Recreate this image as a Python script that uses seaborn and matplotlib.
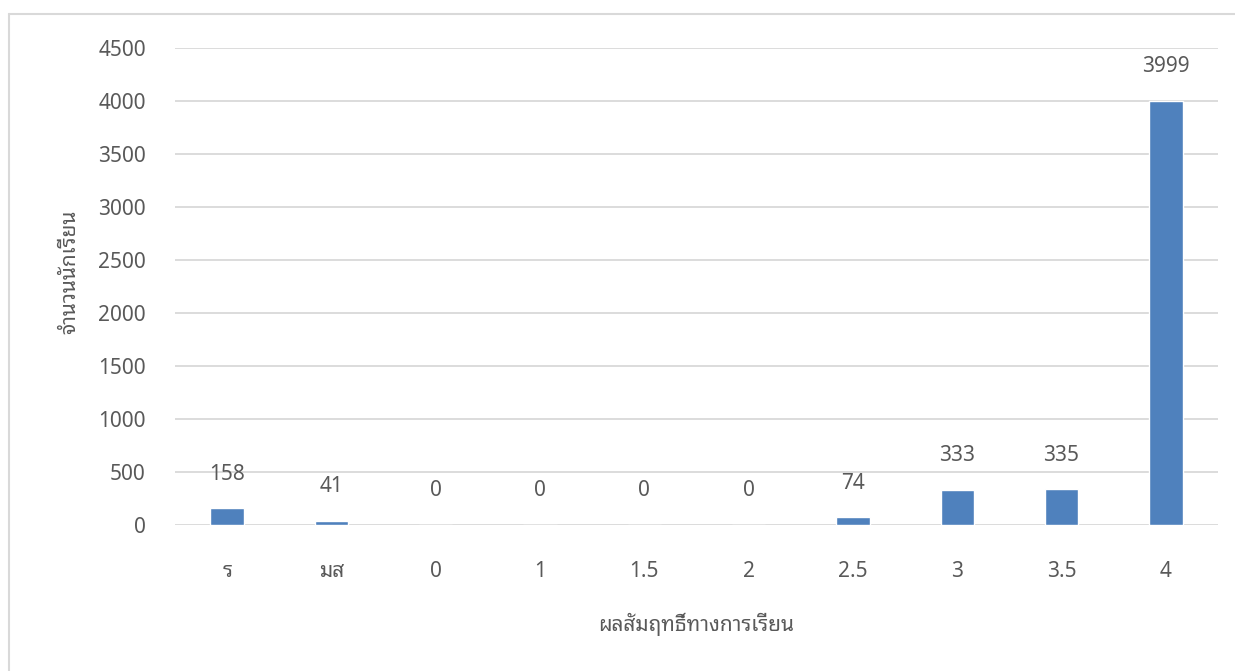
import matplotlib
matplotlib.use("Agg")
import matplotlib.pyplot as plt
from matplotlib.lines import Line2D
import seaborn as sns
import pandas as pd

grades = ["ร", "มส", "0", "1", "1.5", "2", "2.5", "3", "3.5", "4"]
counts = [158, 41, 0, 0, 0, 0, 74, 333, 335, 3999]
y_ticks = [0, 500, 1000, 1500, 2000, 2500, 3000, 3500, 4000, 4500]
x_title = "ผลสัมฤทธิ์ทางการเรียน"
y_title = "จำนวนนักเรียน"

sns.set_style("white")
plt.rcParams['font.family'] = ['Noto Sans Thai Looped', 'Noto Sans', 'DejaVu Sans']

TXT = "#595959"
GRID = "#d9d9d9"
BAR = "#4f81bd"
FS = 15

W, H = 1235, 671
fig = plt.figure(figsize=(W / 100, H / 100), dpi=100)
ax = fig.add_axes([175 / W, 1 - 525 / H, (1218 - 175) / W, (525 - 48) / H])

df = pd.DataFrame({"grade": grades, "count": counts})
sns.barplot(data=df, x="grade", y="count", order=grades, color=BAR,
            width=0.32, saturation=1, ax=ax, zorder=3)

ax.set_ylim(0, 4500)
ax.set_yticks(y_ticks)
ax.set_xlim(-0.5, len(grades) - 0.5)
ax.yaxis.grid(True, color=GRID, linewidth=1.3, zorder=0)
ax.set_axisbelow(True)
for s in ax.spines.values():
    s.set_visible(False)
ax.tick_params(axis='both', length=0, labelsize=FS, labelcolor=TXT)
ax.tick_params(axis='y', pad=21)
ax.tick_params(axis='x', pad=26)

for cont in ax.containers:
    ax.bar_label(cont, labels=[str(v) for v in counts], padding=17,
                 fontsize=FS, color=TXT)

ax.set_xlabel(x_title, fontsize=FS, color=TXT, labelpad=22)
ax.set_ylabel(y_title, fontsize=FS, color=TXT)
ax.yaxis.set_label_coords(-0.091, 0.53)

# outer chart border (left and top edges visible)
fig.add_artist(Line2D([9 / W, 9 / W], [0, 1 - 14 / H], transform=fig.transFigure,
                      color=GRID, linewidth=1.5))
fig.add_artist(Line2D([9 / W, 1], [1 - 14 / H, 1 - 14 / H], transform=fig.transFigure,
                      color=GRID, linewidth=1.5))

fig.savefig("out.png", dpi=100)
